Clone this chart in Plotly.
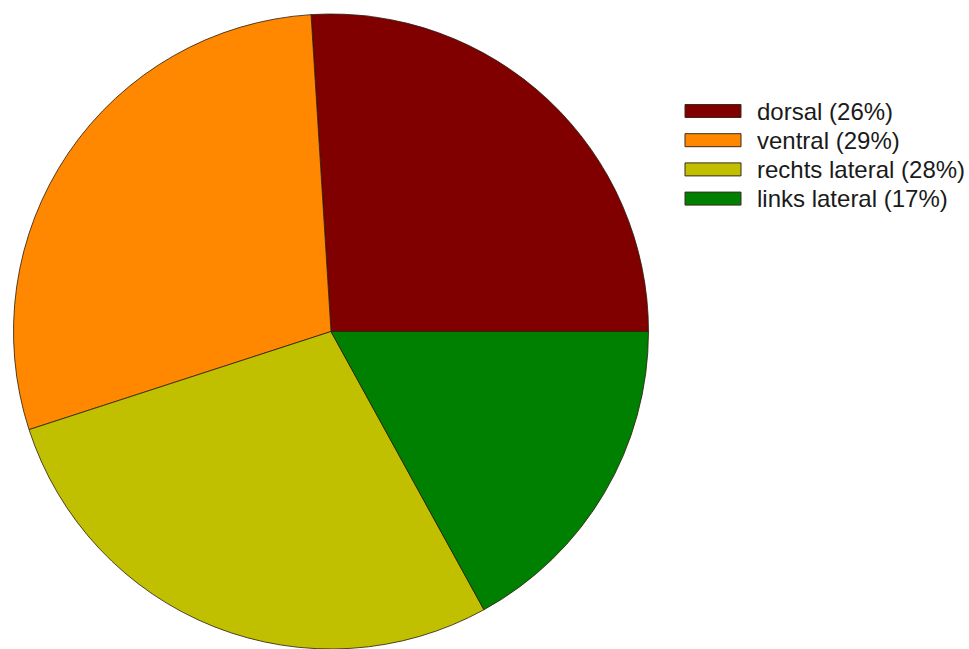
import plotly.graph_objects as go

labels = ["dorsal", "ventral", "rechts lateral", "links lateral"]
values = [26, 29, 28, 17]
colors = ["#800000", "#FF8800", "#C0C000", "#008000"]

W, H = 969, 649
total = sum(values)
legend_text = [f"{l} ({round(v * 100 / total)}%)" for l, v in zip(labels, values)]

cx, top, r = 331, 14, 317.5
fig = go.Figure(go.Pie(
    labels=labels, values=values, sort=False, direction="counterclockwise",
    rotation=90 - 360 * values[0] / total, textinfo="none", hoverinfo="label+percent",
    marker=dict(colors=colors, line=dict(color="#2a1a10", width=0.8)),
    domain=dict(x=[(cx - r) / W, (cx + r) / W], y=[0, 1 - top / H]),
    showlegend=False,
))

# manual legend with wide swatches
sw_x0, sw_x1, txt_x = 685, 741, 755
row0, step, sh = 111, 29.2, 13
for i, (t, c) in enumerate(zip(legend_text, colors)):
    yc = row0 + i * step
    fig.add_shape(type="rect", xref="paper", yref="paper",
                  x0=sw_x0 / W, x1=sw_x1 / W,
                  y0=1 - (yc - sh / 2) / H, y1=1 - (yc + sh / 2) / H,
                  fillcolor=c, line=dict(color="#3a2a20", width=1))
    fig.add_annotation(xref="paper", yref="paper", x=txt_x / W, y=1 - yc / H,
                       text=t, showarrow=False, xanchor="left", yanchor="middle",
                       font=dict(family="Liberation Sans, Arial", size=24, color="#1a1a1a"))

fig.update_layout(width=W, height=H, margin=dict(l=0, r=0, t=0, b=0),
                  paper_bgcolor="white", plot_bgcolor="white")
fig.write_html("out.html", config={"displayModeBar": False},
               post_script="document.body.style.margin='0';document.body.style.overflow='hidden';")
